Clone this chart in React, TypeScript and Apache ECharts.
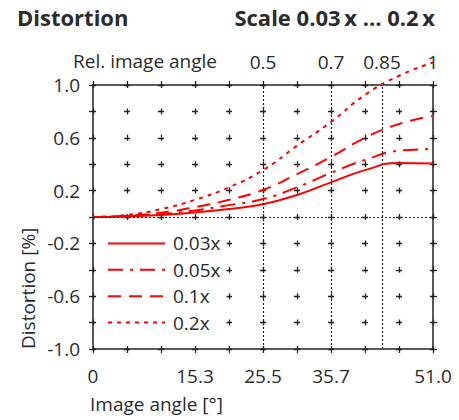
import React, { useEffect, useRef } from 'react';
import * as echarts from 'echarts';

// Image angle [°] sample positions
const xValues = [0, 5.1, 10.2, 15.3, 20.4, 25.5, 30.6, 35.7, 40.8, 45.9, 51];
// Distortion [%] per scale
const scale003 = [0, 0.004, 0.015, 0.034, 0.06, 0.097, 0.167, 0.262, 0.355, 0.41, 0.405];
const scale005 = [0, 0.006, 0.022, 0.05, 0.09, 0.136, 0.225, 0.335, 0.432, 0.502, 0.515];
const scale01 = [0, 0.009, 0.032, 0.074, 0.13, 0.205, 0.325, 0.455, 0.6, 0.705, 0.765];
const scale02 = [0, 0.015, 0.06, 0.13, 0.225, 0.355, 0.54, 0.72, 0.925, 1.07, 1.17];

const seriesNames = ['0.03x', '0.05x', '0.1x', '0.2x'];
const xTickLabels = ['0', '15.3', '25.5', '35.7', '51.0'];
const yTickLabels = ['-1.0', '-0.6', '-0.2', '0.2', '0.6', '1.0'];
const relAngleValues = [25.5, 35.7, 43.35, 51];
const relAngleLabels = ['0.5', '0.7', '0.85', '1'];
const guideX = [25.5, 35.7, 43.35];
const guideY = [0];

const FONT = '"Open Sans", "Noto Sans", sans-serif';
const TEXT = '#2b2b2b';
const AXIS = '#222';
const RED = '#ff0000';

export default function App() {
  const ref = useRef<HTMLDivElement>(null);

  useEffect(() => {
    if (!ref.current) return;
    const chart = echarts.init(ref.current, undefined, { renderer: 'svg' });

    const seriesData = [scale003, scale005, scale01, scale02];
    const dashes: any[] = ['solid', [15, 7, 3, 7], [13, 8], [4, 5]];

    const gridW = 340;
    const gridH = 264;
    const xStepPx = gridW / 10;
    const yStepPx = gridH / 10;
    const plus = 6;

    const near = (a: number, b: number) => Math.abs(a - b) < 1e-6;

    const option: any = {
      animation: false,
      textStyle: { fontFamily: FONT },
      grid: { left: 93, right: 26, top: 85, bottom: 71, containLabel: false },
      graphic: [
        {
          type: 'text',
          left: 17,
          top: 6,
          style: { text: 'Distortion', font: `bold 22px ${FONT}`, fill: TEXT },
        },
        {
          type: 'text',
          right: 24,
          top: 6,
          style: { text: 'Scale 0.03\u2009x … 0.2\u2009x', font: `bold 22px ${FONT}`, fill: TEXT },
        },
        {
          type: 'text',
          x: 217,
          y: 61,
          style: {
            text: 'Rel. image angle',
            font: `19px ${FONT}`,
            fill: TEXT,
            textAlign: 'right',
            textVerticalAlign: 'middle',
          },
        },
        {
          type: 'text',
          x: 90,
          y: 404,
          style: {
            text: 'Image angle [°]',
            font: `19px ${FONT}`,
            fill: TEXT,
            textAlign: 'left',
            textVerticalAlign: 'middle',
          },
        },
        {
          type: 'text',
          x: 28,
          y: 349,
          rotation: Math.PI / 2,
          style: {
            text: 'Distortion [%]',
            font: `19px ${FONT}`,
            fill: TEXT,
            textAlign: 'left',
            textVerticalAlign: 'middle',
          },
        },
      ],
      legend: {
        data: seriesNames,
        orient: 'vertical',
        left: 102,
        top: 228.4,
        padding: [5, 6, 5, 5],
        backgroundColor: '#ffffff',
        itemWidth: 57,
        itemHeight: 20,
        itemGap: yStepPx - 20,
        itemStyle: { opacity: 0 },
        textStyle: { fontFamily: FONT, fontSize: 19, color: TEXT, lineHeight: 20, padding: [0, 0, 0, 3] },
        selectedMode: false,
      },
      xAxis: [
        {
          type: 'value',
          position: 'bottom',
          min: 0,
          max: 51,
          interval: 5.1,
          axisLine: { show: true, onZero: false, lineStyle: { color: AXIS, width: 1.5 } },
          axisTick: { show: true, length: 4, lineStyle: { color: AXIS, width: 1.3 } },
          axisLabel: {
            show: true,
            margin: 17,
            fontFamily: FONT,
            fontSize: 19,
            color: TEXT,
            showMinLabel: true,
            showMaxLabel: true,
            formatter: (v: number) => {
              const hit = xTickLabels.find((s) => near(parseFloat(s), v));
              return hit ?? '';
            },
          },
          splitLine: {
            show: true,
            lineStyle: {
              color: AXIS,
              width: 1.3,
              type: [plus, yStepPx - plus],
              dashOffset: plus / 2,
            },
          },
        },
        {
          type: 'value',
          position: 'top',
          min: 0,
          max: 51,
          interval: 5.1,
          axisLine: { show: true, onZero: false, lineStyle: { color: AXIS, width: 1.5 } },
          axisTick: { show: true, length: 4, lineStyle: { color: AXIS, width: 1.3 } },
          axisLabel: {
            show: true,
            margin: 14,
            fontFamily: FONT,
            fontSize: 19,
            color: TEXT,
            customValues: relAngleValues,
            formatter: (v: number) => {
              const i = relAngleValues.findIndex((r) => near(r, v));
              return i >= 0 ? relAngleLabels[i] : '';
            },
          },
          splitLine: { show: false },
        },
      ],
      yAxis: [
        {
          type: 'value',
          position: 'left',
          min: -1,
          max: 1,
          interval: 0.2,
          axisLine: { show: true, onZero: false, lineStyle: { color: AXIS, width: 1.5 } },
          axisTick: { show: true, length: 4, lineStyle: { color: AXIS, width: 1.3 } },
          axisLabel: {
            show: true,
            margin: 13,
            fontFamily: FONT,
            fontSize: 19,
            color: TEXT,
            showMinLabel: true,
            showMaxLabel: true,
            formatter: (v: number) => {
              const hit = yTickLabels.find((s) => near(parseFloat(s), v));
              return hit ?? '';
            },
          },
          splitLine: {
            show: true,
            lineStyle: {
              color: AXIS,
              width: 1.3,
              type: [plus, xStepPx - plus],
              dashOffset: plus / 2,
            },
          },
        },
        {
          type: 'value',
          position: 'right',
          min: -1,
          max: 1,
          interval: 0.2,
          axisLine: { show: true, onZero: false, lineStyle: { color: AXIS, width: 1.5 } },
          axisTick: { show: true, length: 4, lineStyle: { color: AXIS, width: 1.3 } },
          axisLabel: { show: false },
          splitLine: { show: false },
        },
      ],
      series: [
        {
          name: 'guides',
          type: 'line',
          xAxisIndex: 0,
          yAxisIndex: 0,
          data: [],
          z: 1,
          silent: true,
          markLine: {
            silent: true,
            symbol: 'none',
            label: { show: false },
            lineStyle: { color: AXIS, width: 1.2, type: [2, 2] },
            data: [
              ...guideX.map((x) => ({ xAxis: x })),
              ...guideY.map((y) => ({ yAxis: y })),
            ],
          },
        },
        ...seriesNames.map((name, i) => ({
          name,
          type: 'line',
          xAxisIndex: 0,
          yAxisIndex: 0,
          data: xValues.map((x, k) => [x, seriesData[i][k]]),
          symbol: 'none',
          smooth: 0.5,
          clip: false,
          z: 3,
          lineStyle: { color: RED, width: 2, type: dashes[i] },
          itemStyle: { color: RED },
        })),
      ],
    };

    chart.setOption(option);
    return () => chart.dispose();
  }, []);

  return (
    <div
      ref={ref}
      style={{ position: 'absolute', left: 0, top: 0, width: 459, height: 420, background: '#fff' }}
    />
  );
}
